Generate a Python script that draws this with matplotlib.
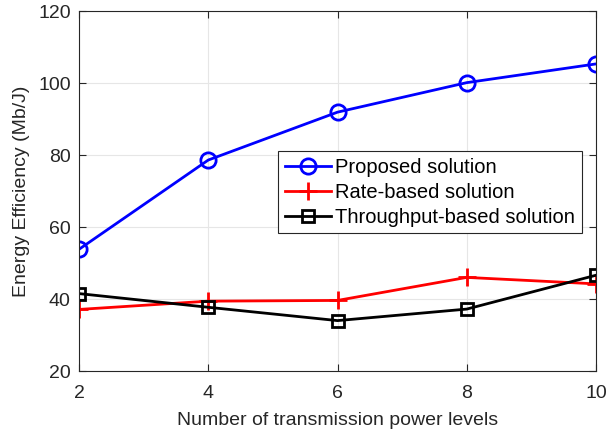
import matplotlib
matplotlib.use("Agg")
import matplotlib.pyplot as plt

levels = [2, 4, 6, 8, 10]
proposed = [53.8, 78.6, 91.9, 100.1, 105.3]
rate_based = [37.1, 39.4, 39.6, 46.0, 44.2]
throughput_based = [41.5, 37.7, 34.0, 37.2, 46.6]
xticks = [2, 4, 6, 8, 10]
yticks = [20, 40, 60, 80, 100, 120]

plt.rcParams['font.family'] = ['Liberation Sans', 'DejaVu Sans']
dark = '#262626'

fig = plt.figure(figsize=(6.06, 4.33), dpi=100)
ax = fig.add_axes([79/606, 1-371/433, (596-79)/606, (371-11)/433])

ax.plot(levels, proposed, '-o', color='b', lw=2, ms=11, mfc='none', mew=2, label='Proposed solution')
ax.plot(levels, rate_based, '-+', color='r', lw=2, ms=13, mew=2, label='Rate-based solution')
ax.plot(levels, throughput_based, '-s', color='k', lw=2, ms=8, mfc='none', mew=2, label='Throughput-based solution')

ax.set_xlim(2, 10)
ax.set_ylim(20, 120)
ax.set_xticks(xticks)
ax.set_yticks(yticks)
ax.grid(True, color='#e6e6e6', lw=0.8)
ax.set_axisbelow(True)
ax.tick_params(direction='in', top=True, right=True, labelsize=14, colors=dark, length=5, width=0.8)
ax.tick_params(axis='x', pad=10)
ax.tick_params(axis='y', pad=6)
for s in ax.spines.values():
    s.set_color(dark); s.set_linewidth(0.8)
ax.set_xlabel('Number of transmission power levels', fontsize=14, color=dark, labelpad=7)
ax.set_ylabel('Energy Efficiency (Mb/J)', fontsize=14, color=dark, labelpad=6)

leg = ax.legend(loc='upper right', bbox_to_anchor=(582/606, 1-151/433), bbox_transform=fig.transFigure,
                fontsize=14.5, fancybox=False, framealpha=1, edgecolor=dark, borderpad=0.33,
                labelspacing=0.3, handlelength=2.3, handletextpad=0.2, borderaxespad=0)
leg.get_frame().set_linewidth(0.8)

fig.savefig('out.png', dpi=100)
